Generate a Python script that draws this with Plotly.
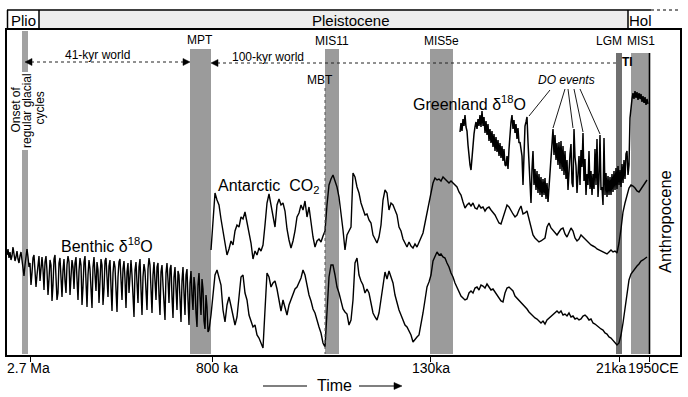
import numpy as np
import plotly.graph_objects as go

# ---------------- data (schematic, relative units; higher = warmer / more CO2) -------------
# Benthic d18O, dense 41-kyr part (2.7 Ma -> ~0.8 Ma)
benthic_early = [100, 106, 97, 103, 95, 99, 108, 101, 94, 98, 104, 96, 92, 99, 103, 95,
                 86, 79, 90, 101, 106, 98, 88, 92,
                 70, 82, 97, 100, 88, 68, 80, 94, 99, 74, 90, 98, 86, 65, 93,
                 99, 84, 60, 76, 95, 90, 54, 70, 96, 100, 80, 55, 62, 92, 97,
                 70, 58, 85, 96, 74, 62, 90, 99, 93, 60, 78, 95, 88, 66, 92,
                 98, 76, 55, 84, 97, 90, 50, 68, 93, 99, 72, 48, 80, 95, 86,
                 60, 47, 88, 98, 80, 64, 93, 85, 52, 72, 96, 90, 50, 66, 94,
                 97, 75, 58, 89, 95, 68, 44, 82, 94, 88, 62, 43, 78, 93, 96,
                 70, 55, 86, 94, 76, 47, 83, 92, 62, 74, 95, 80, 50, 38, 85,
                 93, 72, 52, 88, 96, 66, 40, 78, 91, 84, 58, 45, 86, 97, 90,
                 62, 42, 80, 93, 74, 55, 88, 92, 60, 40, 83, 90, 70, 48, 35,
                 82, 92, 75, 52, 86, 90, 58, 37, 78, 88, 66, 45, 84, 80, 56,
                 33, 74, 88, 62, 40, 80, 86, 55, 30, 72, 84, 60, 45, 78, 68,
                 42, 28, 70, 82, 58, 40, 76, 66, 34, 26, 60, 48, 23]
# Benthic d18O, 100-kyr part (~0.8 Ma -> 1950 CE)
benthic_late = [25, 40, 62, 80, 85, 76, 70, 45, 33, 50, 58, 49, 40, 30, 38, 55, 78, 80, 62, 55,
                40, 34, 28, 30, 20, 17, 12, 7, 45, 82, 78, 68, 72, 74, 66, 55, 44, 55, 48, 40,
                50, 56, 62, 66, 68, 73, 77, 85, 80, 70, 60, 54, 46, 42, 34, 28, 22, 12, 8, 42,
                78, 90, 90, 80, 68, 62, 54, 46, 43, 41, 30, 35, 55, 92, 97, 80, 74, 70, 62, 66,
                62, 50, 42, 38, 35, 42, 55, 72, 83, 76, 84, 78, 72, 60, 52, 45, 40, 34, 30, 28,
                24, 20, 13, 16, 18, 20, 30, 42, 55, 68, 73, 80, 94, 99, 103, 100, 101, 98, 97, 92,
                88, 82, 78, 72, 67, 63, 59, 57, 55, 56, 62, 64, 62, 67, 68, 65, 70, 69, 67, 71,
                68, 65, 66, 63, 61, 58, 54, 53, 62, 67, 68, 66, 64, 59, 57, 55, 53, 51, 48, 46,
                43, 41, 38, 37, 36, 34, 32, 34, 31, 35, 37, 39, 40, 42, 44, 42, 44, 40, 41, 39,
                42, 38, 39, 36, 37, 35, 36, 39, 40, 38, 35, 36, 32, 31, 29, 28, 26, 25, 22, 21,
                18, 17, 15, 13, 10, 12, 20, 32, 48, 63, 75, 81, 84, 87, 89, 91, 94, 95, 97, 98]
# Antarctic CO2 (~0.8 Ma -> 1950 CE)
co2 = [105, 140, 162, 155, 150, 136, 124, 110, 100, 106, 114, 110, 124, 130, 128, 138, 136, 143, 132, 122,
       112, 96, 104, 100, 107, 104, 110, 130, 152, 161, 150, 136, 128, 150, 156, 150, 152, 144, 126, 115,
       107, 114, 124, 138, 142, 150, 145, 154, 138, 148, 132, 118, 108, 114, 116, 113, 119, 124, 150, 170,
       176, 180, 174, 168, 158, 143, 125, 105, 120, 124, 128, 182, 178, 168, 162, 152, 146, 140, 141, 135,
       132, 120, 116, 112, 118, 130, 155, 165, 162, 145, 152, 150, 145, 140, 128, 124, 116, 112, 108, 113,
       109, 107, 111, 108, 113, 116, 122, 132, 142, 152, 163, 172, 177, 175, 176, 174, 178, 176, 174, 172,
       174, 172, 170, 168, 163, 160, 153, 147, 150, 152, 149, 152, 147, 146, 150, 147, 148, 144, 147, 148,
       145, 143, 140, 136, 132, 131, 137, 142, 150, 148, 144, 141, 138, 140, 145, 149, 141, 142, 144, 136,
       126, 120, 117, 115, 113, 114, 116, 117, 128, 132, 127, 125, 122, 120, 123, 126, 127, 121, 118, 123,
       127, 124, 117, 114, 116, 120, 118, 115, 113, 112, 110, 109, 108, 106, 105, 104, 103, 102, 101, 103,
       105, 103, 104, 102, 112, 126, 143, 152, 160, 167, 170, 169, 167, 164, 163, 166, 169, 172, 175]
# Greenland d18O (~123 ka -> 1950 CE)
greenland = [223, 232, 224, 236, 229, 240, 228, 224, 210, 198, 190, 185, 199, 206, 221, 228, 233, 226, 236, 229,
             240, 228, 244, 229, 238, 222, 234, 220, 231, 214, 226, 212, 224, 208, 221, 204, 218, 203, 215, 199,
             212, 197, 209, 194, 206, 190, 189, 199, 186, 206, 222, 233, 240, 226, 235, 222, 231, 216, 227, 212,
             213, 202, 199, 170, 202, 229, 233, 238, 213, 193, 168, 152, 186, 204, 170, 186, 165, 184, 162, 181,
             160, 178, 158, 176, 160, 177, 156, 172, 153, 170, 182, 201, 216, 226, 200, 220, 195, 212, 190, 213,
             186, 214, 184, 209, 180, 204, 176, 195, 165, 190, 201, 211, 172, 168, 226, 198, 189, 162, 186, 199,
             170, 205, 188, 222, 174, 196, 160, 181, 170, 204, 166, 184, 160, 181, 166, 206, 170, 216, 158, 176,
             220, 165, 168, 150, 217, 160, 182, 158, 179, 160, 178, 160, 181, 163, 184, 165, 187, 166, 189, 170,
             185, 168, 191, 172, 195, 176, 201, 204, 180, 190, 237, 250, 256, 262, 256, 264, 257, 263, 255, 262,
             256, 261, 253, 259, 252, 258, 250, 256, 251]

tick_labels = ["2.7 Ma", "800 ka", "130ka", "21ka", "1950CE"]
tick_pos = [30, 212, 430, 619, 649]          # schematic (non-linear) time axis positions
tick_label_pos = [28.5, 217, 431, 611, 653.5]

FONT = "Liberation Sans, Arial, sans-serif"
BAND = "#9b9b9b"


def pp(x, y):
    """pixel -> paper coordinates"""
    return (x - 7) / 673.0, (355 - y) / 325.0


shapes = []
annots = []


def rect(x0, y0, x1, y1, color, layer="below"):
    a, b = pp(x0, y1)
    c, d = pp(x1, y0)
    shapes.append(dict(type="rect", xref="paper", yref="paper", x0=a, y0=b, x1=c, y1=d,
                       fillcolor=color, line=dict(width=0), layer=layer))


def line(x0, y0, x1, y1, color="black", width=1.0, dash="solid"):
    a, b = pp(x0, y0)
    c, d = pp(x1, y1)
    shapes.append(dict(type="line", xref="paper", yref="paper", x0=a, y0=b, x1=c, y1=d,
                       line=dict(color=color, width=width, dash=dash)))


def tri(points, color="black"):
    path = ""
    for i, (x, y) in enumerate(points):
        a, b = pp(x, y)
        path += ("M" if i == 0 else "L") + f" {a:.5f} {b:.5f} "
    path += "Z"
    shapes.append(dict(type="path", xref="paper", yref="paper", path=path,
                       fillcolor=color, line=dict(color=color, width=0.5)))


def text(x, y, s, size=12, xanchor="center", angle=0, italic=False, bold=False, color="black"):
    a, b = pp(x, y)
    if bold:
        s = "<b>" + s + "</b>"
    if italic:
        s = "<i>" + s + "</i>"
    annots.append(dict(x=a, y=b, xref="paper", yref="paper", text=s, showarrow=False,
                       xanchor=xanchor, yanchor="middle", textangle=angle,
                       font=dict(family=FONT, size=size, color=color)))


# ---- bands
rect(22, 31, 28, 72, "#a2a2a2")
rect(22, 150, 28, 354, "#a2a2a2")
rect(190, 49, 211, 354, BAND)
rect(325, 49, 339, 354, BAND)
rect(430, 49, 453, 354, BAND)
rect(616, 53, 622, 354, "#707070")
rect(631, 53, 649, 354, BAND)

# ---- top bar
rect(39, 10, 628, 30, "#ededed")
line(7, 10, 651, 10, width=1.5)
line(651, 10, 678, 10, width=1, dash="dot")
line(7.5, 10, 7.5, 30, width=1.5)
line(39, 10, 39, 30, width=1.5)
line(628, 10, 628, 30, width=1.5)
text(23, 20, "Plio", 15)
text(351, 20, "Pleistocene", 15)
text(640, 20, "Hol", 15)

# ---- vertical markers
line(325, 88, 325, 354, color="#555555", width=1, dash="dot")
line(649.5, 53, 649.5, 354, width=1.6)

# ---- 41-kyr / 100-kyr arrows
line(31, 62, 184, 62, color="#222222", width=1, dash="dot")
tri([(25, 62), (32, 58.5), (32, 65.5)])
tri([(190, 62), (183, 58.5), (183, 65.5)])
line(217, 63, 616, 63, color="#222222", width=1, dash="dot")
tri([(211, 63), (218, 59.5), (218, 66.5)])

# ---- DO event pointers
for (x0, y0, x1, y1) in [(550, 90, 529, 116), (565, 89, 553, 128), (568, 89, 573, 128),
                         (574, 89, 583, 132), (580, 89, 600, 134)]:
    line(x0, y0, x1, y1, width=0.9)

# ---- time arrow
line(263, 386, 307, 386, width=1.2)
line(359, 386, 396, 386, width=1.2)
tri([(402, 386), (394, 382.5), (394, 389.5)])

# ---- labels
text(97, 55, "41-kyr world", 12)
text(268, 57, "100-kyr world", 12)
text(200, 40, "MPT", 12)
text(332, 41, "MIS11", 12)
text(441, 41, "MIS5e", 12)
text(609, 41, "LGM", 12)
text(641, 41, "MIS1", 12)
text(320, 80, "MBT", 12)
text(627, 62, "TI", 12, bold=True)
text(566, 80, "DO events", 12, italic=True)
text(411, 103, "Greenland δ<sup>18</sup>O", 16, xanchor="left")
text(216, 186, "Antarctic  CO<sub>2</sub>", 16, xanchor="left")
text(59, 245, "Benthic δ<sup>18</sup>O", 16, xanchor="left")
text(665, 222, "Anthropocene", 16.5, angle=-90)
text(15.5, 110, "Onset of", 12, angle=-90)
text(27, 111, "regular glacial", 12, angle=-90)
text(39.5, 108, "cycles", 12, angle=-90)
for lab, xp in zip(tick_labels, tick_label_pos):
    text(xp, 368, lab, 14)
text(334, 385, "Time", 16)

# ---------------- traces ----------------
x_be = np.linspace(7, 208, len(benthic_early))
x_bl = np.linspace(209, 647, len(benthic_late))
x_benthic = np.concatenate([x_be, x_bl])
y_benthic = np.array(benthic_early + benthic_late, dtype=float)
x_co2 = np.linspace(211, 647, len(co2))
x_gr = np.linspace(460, 648, len(greenland))

fig = go.Figure()
fig.add_trace(go.Scatter(x=x_benthic, y=y_benthic, mode="lines",
                         line=dict(color="black", width=1.4), hoverinfo="skip"))
fig.add_trace(go.Scatter(x=x_co2, y=co2, mode="lines",
                         line=dict(color="black", width=1.4), hoverinfo="skip"))
fig.add_trace(go.Scatter(x=x_gr, y=greenland, mode="lines",
                         line=dict(color="black", width=1.5), hoverinfo="skip"))

fig.update_layout(
    width=688, height=397,
    margin=dict(l=7, r=8, t=30, b=42, pad=0),
    paper_bgcolor="white", plot_bgcolor="white",
    showlegend=False,
    shapes=shapes, annotations=annots,
    xaxis=dict(range=[7, 680], showgrid=False, zeroline=False, showline=True, mirror=True,
               linecolor="black", linewidth=1.5, ticks="outside", ticklen=5, tickwidth=1.2,
               tickcolor="black", tickvals=tick_pos, showticklabels=False, fixedrange=True),
    yaxis=dict(range=[0, 325], showgrid=False, zeroline=False, showline=True, mirror=True,
               linecolor="black", linewidth=1.5, showticklabels=False, ticks="", fixedrange=True),
)

fig.write_html("out.html", config={"displayModeBar": False},
               post_script="document.body.style.margin='0';document.body.style.overflow='hidden';")
